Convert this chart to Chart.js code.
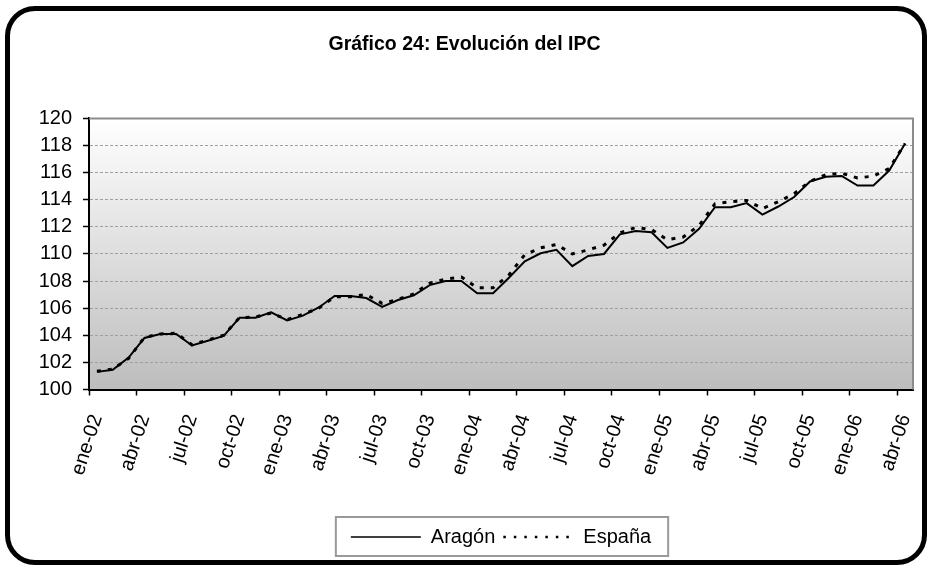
<!DOCTYPE html>
<html><head><meta charset="utf-8">
<script src="https://cdn.jsdelivr.net/npm/chart.js@4/dist/chart.umd.min.js"></script>
<style>
html,body{margin:0;padding:0;background:#fff;}
#wrap{position:relative;width:929px;height:566px;overflow:hidden;}
#frame{position:absolute;left:5px;top:6px;width:912px;height:549px;border:5px solid #000;border-radius:30px;pointer-events:none;}
canvas{position:absolute;left:0;top:0;}
</style></head><body>
<div id="wrap"><canvas id="c" width="929" height="566"></canvas><div id="frame"></div></div>
<script>
const categories = [
 'ene-02','feb-02','mar-02','abr-02','may-02','jun-02','jul-02','ago-02','sep-02','oct-02','nov-02','dic-02',
 'ene-03','feb-03','mar-03','abr-03','may-03','jun-03','jul-03','ago-03','sep-03','oct-03','nov-03','dic-03',
 'ene-04','feb-04','mar-04','abr-04','may-04','jun-04','jul-04','ago-04','sep-04','oct-04','nov-04','dic-04',
 'ene-05','feb-05','mar-05','abr-05','may-05','jun-05','jul-05','ago-05','sep-05','oct-05','nov-05','dic-05',
 'ene-06','feb-06','mar-06','abr-06'];
const aragon = [
 101.3,101.45,102.35,103.8,104.1,104.1,103.25,103.6,103.95,105.3,105.3,105.7,
 105.1,105.45,106.05,106.9,106.9,106.75,106.1,106.6,106.95,107.7,108.0,108.0,
 107.1,107.1,108.25,109.45,110.05,110.3,109.1,109.85,110.0,111.45,111.7,111.6,
 110.45,110.85,111.85,113.45,113.45,113.75,112.9,113.5,114.2,115.35,115.7,115.75,
 115.05,115.05,116.15,118.15];
const espana = [
 101.35,101.5,102.3,103.85,104.1,104.15,103.3,103.65,104.0,105.3,105.35,105.65,
 105.15,105.55,106.0,106.85,106.85,107.0,106.35,106.65,107.05,107.85,108.15,108.3,
 107.5,107.5,108.45,109.95,110.45,110.7,110.0,110.3,110.65,111.55,111.95,111.8,
 111.05,111.25,112.1,113.7,113.85,113.95,113.35,113.85,114.45,115.35,115.85,115.95,
 115.6,115.75,116.3,118.15];
const yTicks = [100,102,104,106,108,110,112,114,116,118,120];
const seriesNames = ['Aragón','España'];
const titleText = 'Gráfico 24: Evolución del IPC';
const FONT = 'Liberation Sans, Arial, Helvetica, sans-serif';

const bgPlugin = {
  id: 'bg',
  beforeDraw(chart) {
    const {ctx, chartArea: a} = chart;
    ctx.save();
    ctx.fillStyle = '#fff'; ctx.fillRect(0, 0, chart.width, chart.height);
    const g = ctx.createLinearGradient(0, a.top, 0, a.bottom);
    g.addColorStop(0, '#ffffff'); g.addColorStop(1, '#bdbdbd');
    ctx.fillStyle = g; ctx.fillRect(a.left, a.top, a.right - a.left, a.bottom - a.top);
    ctx.restore();
  },
  afterDraw(chart) {
    const {ctx, chartArea: a} = chart;
    ctx.save();
    ctx.strokeStyle = '#8c8c8c'; ctx.lineWidth = 2;
    ctx.beginPath(); ctx.moveTo(a.left, a.top); ctx.lineTo(a.right, a.top); ctx.lineTo(a.right, a.bottom); ctx.stroke();
    const lg = chart.legend;
    if (lg && lg.legendHitBoxes && lg.legendHitBoxes.length) {
      const hb = lg.legendHitBoxes;
      const l = Math.min(...hb.map(h => h.left)) - 15;
      const r = Math.max(...hb.map(h => h.left + h.width)) + 17;
      ctx.strokeStyle = '#999'; ctx.lineWidth = 2;
      ctx.strokeRect(l, lg.top - 2, r - l, lg.bottom - lg.top + 1);
    }
    ctx.restore();
  }
};

const legendDash = [[], [2.5, 8]];
const legendWidth = [1.6, 2.5];

new Chart(document.getElementById('c'), {
  type: 'line',
  data: { labels: categories, datasets: [
    {label: seriesNames[0], data: aragon, borderColor: '#000', borderWidth: 2, pointRadius: 0, tension: 0, fill: false},
    {label: seriesNames[1], data: espana, borderColor: '#000', borderWidth: 3, borderDash: [4, 7], pointRadius: 0, tension: 0, fill: false}
  ]},
  options: {
    responsive: false, animation: false, devicePixelRatio: 1,
    layout: {padding: {left: 16, right: 16, top: 0, bottom: 9}},
    plugins: {
      title: {display: true, text: titleText, color: '#000', font: {family: FONT, size: 19.5, weight: 'bold'}, padding: {top: 33, bottom: 62}},
      legend: {position: 'bottom', fullSize: false,
        labels: {color: '#000', font: {family: FONT, size: 20}, usePointStyle: true, pointStyle: 'line', pointStyleWidth: 70, padding: 8,
          generateLabels: chart => {
            const items = Chart.defaults.plugins.legend.labels.generateLabels(chart);
            items.forEach((it, i) => { it.lineDash = legendDash[i]; it.lineWidth = legendWidth[i]; it.strokeStyle = '#000'; it.pointStyle = 'line'; });
            return items;
          }}},
      tooltip: {enabled: false}
    },
    scales: {
      x: {type: 'category', offset: true,
        grid: {offset: true, drawOnChartArea: false, drawTicks: true, tickLength: 6, tickWidth: 1.5,
          tickColor: c => (c.index !== undefined && c.index % 3 === 0) ? '#000' : 'rgba(0,0,0,0)'},
        border: {color: '#000', width: 2},
        ticks: {autoSkip: false, maxRotation: 72, minRotation: 72, padding: 16, color: '#000', font: {family: FONT, size: 20},
          callback: (v, i) => i % 3 === 0 ? categories[i] : ''},
        afterFit: s => { s.height = 129.5; s.paddingLeft = 0; s.paddingRight = 0; }
      },
      y: {min: yTicks[0], max: yTicks[yTicks.length - 1],
        ticks: {stepSize: 2, color: '#000', font: {family: FONT, size: 20}, padding: 11},
        grid: {color: '#a0a0a0', lineWidth: 1, tickLength: 6, tickColor: '#000', tickWidth: 1.5, tickBorderDash: []},
        border: {color: '#000', width: 2, dash: [3, 2]},
        afterFit: s => { s.width = 73; s.paddingTop = 0; s.paddingBottom = 0; }
      }
    }
  },
  plugins: [bgPlugin]
});
</script>
</body></html>
